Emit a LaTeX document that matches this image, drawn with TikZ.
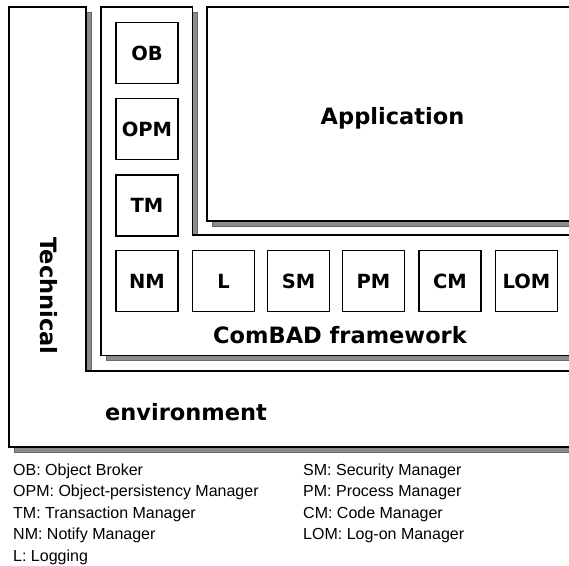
\documentclass[tikz,border=0pt]{standalone}
\usepackage{fontspec}
\setmainfont{Liberation Sans}
\newfontfamily\djv{DejaVu Sans}
\begin{document}
\begin{tikzpicture}[x=1pt,y=-1pt,
  frame/.style={draw=black,line width=1.8pt,fill=white,line join=miter},
  shadowfill/.style={fill=black!45,draw=black!60,line width=0.8pt},
  modbox/.style={draw=black,line width=1.2pt,fill=white,minimum width=62pt,minimum height=61pt,inner sep=0pt,font=\djv\bfseries\fontsize{19.5}{22}\selectfont},
  biglabel/.style={font=\djv\bfseries\fontsize{22.5}{26}\selectfont,inner sep=0pt},
  legend/.style={font=\fontsize{16}{19}\selectfont,anchor=base west,inner sep=0pt}]
\useasboundingbox (0,0) rectangle (569,565);
\clip (0,0) rectangle (569,565);
% Technical environment
\begin{scope}[shift={(5,5)}]
\fill[shadowfill] (9,7) -- (86,7) -- (86,371) -- (620,371) -- (620,447) -- (9,447) -- cycle;
\end{scope}
\draw[frame] (9,7) -- (86,7) -- (86,371) -- (620,371) -- (620,447) -- (9,447) -- cycle;
% ComBAD framework
\begin{scope}[shift={(5,5)}]
\fill[shadowfill] (101,7) -- (192.5,7) -- (192.5,235) -- (620,235) -- (620,355.5) -- (101,355.5) -- cycle;
\end{scope}
\draw[frame] (101,7) -- (192.5,7) -- (192.5,235) -- (620,235) -- (620,355.5) -- (101,355.5) -- cycle;
% Application
\begin{scope}[shift={(5,5)}]
\fill[shadowfill] (207,7) rectangle (620,221);
\end{scope}
\draw[frame] (207,7) rectangle (620,221);
% modules
\node[modbox] (ob) at (147,53) {OB};
\node[modbox] (opm) at (147,129) {OPM};
\node[modbox] (tm) at (147,205.5) {TM};
\node[modbox] (nm) at (147,281) {NM};
\node[modbox] (l) at (223.5,281) {L};
\node[modbox] (sm) at (298.5,281) {SM};
\node[modbox] (pm) at (373.5,281) {PM};
\node[modbox] (cm) at (450,281) {CM};
\node[modbox] (lom) at (526.5,281) {LOM};
% labels
\node[biglabel,anchor=base] (app) at (392.5,124) {Application};
\node[biglabel,anchor=base] (fw) at (340,343) {ComBAD framework};
\node[biglabel,anchor=base west] (env) at (105,420) {environment};
\node[biglabel,rotate=-90] (tech) at (48.5,296) {Technical};
% legend
\node[legend] (lob) at (13,475) {OB: Object Broker};
\node[legend] (lopm) at (13,496.5) {OPM: Object-persistency Manager};
\node[legend] (ltm) at (13,518) {TM: Transaction Manager};
\node[legend] (lnm) at (13,539.5) {NM: Notify Manager};
\node[legend] (ll) at (13,561) {L: Logging};
\node[legend] (lsm) at (303,475) {SM: Security Manager};
\node[legend] (lpm) at (303,496.5) {PM: Process Manager};
\node[legend] (lcm) at (303,518) {CM: Code Manager};
\node[legend] (llom) at (303,539.5) {LOM: Log-on Manager};
\end{tikzpicture}
\end{document}
